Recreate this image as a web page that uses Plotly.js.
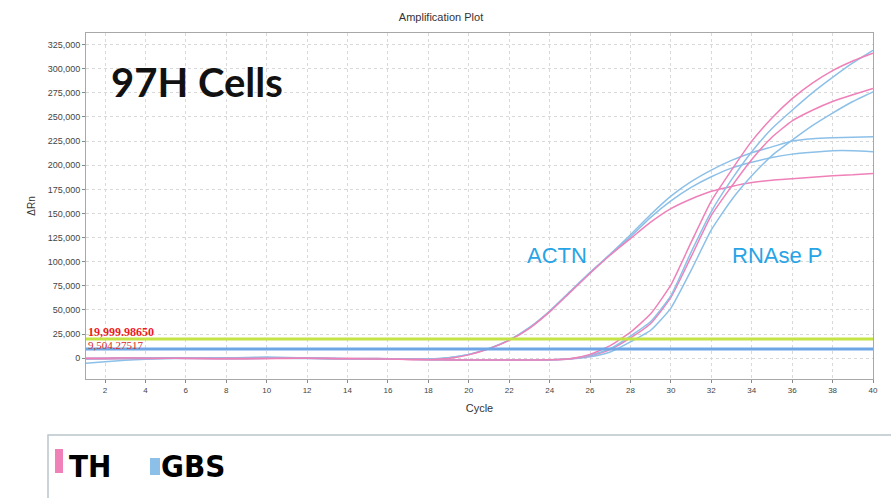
<!DOCTYPE html>
<html><head><meta charset="utf-8">
<script src="https://cdn.plot.ly/plotly-3.0.1.min.js"></script>
<style>html,body{margin:0;padding:0;background:#fff}#chart{width:891px;height:498px}</style>
</head><body><div id="chart"></div><script>
// ---- data ----
const cycles = [1,2,3,4,5,6,7,8,9,10,11,12,13,14,15,16,17,18,19,20,21,22,23,24,25,26,27,28,29,30,31,32,33,34,35,36,37,38,39,40];

// ACTN target
const actnGbsA = [-5200,-3600,-2200,-1000,-400,-200,0,300,500,300,0,-300,-500,-400,-300,-500,-800,-600,600,4000,10200,19000,32000,49000,69000,89000,108000,128000,149000,168000,183000,195000,205000,213000,219000,225000,227500,228500,229000,229500];
const actnGbsB = [-800,-600,-400,-200,0,100,200,400,800,1200,900,200,-300,-500,-600,-700,-900,-800,400,3800,10000,18800,31500,48500,68500,88500,107500,126000,146000,163000,177000,188000,197000,203000,208000,211500,213500,215000,215000,214000];
const actnTh   = [-300,-200,-100,0,0,-200,-400,-500,-300,0,200,100,-200,-300,-200,-400,-1200,-1600,-200,3500,9800,18500,31000,48000,68000,88000,107000,124000,141000,155000,165000,173000,178000,182000,184500,186000,187500,189000,190000,191500];

// RNAse P target
const rnaseThA  = [0,100,200,100,0,-100,-300,-500,-400,-200,0,-100,-300,-500,-700,-900,-1200,-1500,-1700,-1800,-1800,-1800,-1700,-1500,-500,4000,13000,27000,46000,76000,120000,163000,195000,225000,249000,269000,285000,298000,308000,316000];
const rnaseGbsA = [-300,-200,0,200,300,200,0,-200,-300,-100,100,0,-200,-400,-600,-800,-1100,-1400,-1600,-1800,-1900,-1900,-1800,-1600,-600,3000,10000,23000,38000,65000,110000,152000,185000,214000,238000,257000,275000,291000,306000,319000];
const rnaseThB  = [-500,-400,-300,-200,-100,0,100,0,-200,-300,-200,0,-100,-300,-500,-700,-1000,-1300,-1500,-1700,-1800,-1800,-1800,-1600,-700,2500,9000,21000,36000,63000,105000,148000,178000,206000,229000,246000,257000,266000,273000,279500];
const rnaseGbsB = [-200,-100,0,100,0,-100,-200,-300,-200,0,100,0,-200,-400,-600,-800,-1000,-1300,-1600,-1800,-1900,-1900,-1900,-1700,-800,1500,6500,17000,29000,52000,91000,133000,164000,189000,210000,226000,241000,254000,266000,276000];

const thresholdValues = [19999.98650, 9504.27517];
const thresholdLabels = ['19,999.98650', '9,504.27517'];
const groups = ['TH', 'GBS'];
const targetLabels = ['ACTN', 'RNAse P'];
const yTickVals = [0,25000,50000,75000,100000,125000,150000,175000,200000,225000,250000,275000,300000,325000];
const xTickVals = [2,4,6,8,10,12,14,16,18,20,22,24,26,28,30,32,34,36,38,40];

// ---- styles ----
const PINK = '#ef80b8';
const BLUE = '#8cc0e8';
const groupColors = {TH: PINK, GBS: BLUE};
const thresholdColors = ['#c3e444', '#6ea6e6'];

const curves = [
  {y: actnGbsA, g: 'GBS'}, {y: actnGbsB, g: 'GBS'}, {y: actnTh, g: 'TH'},
  {y: rnaseGbsB, g: 'GBS'}, {y: rnaseThB, g: 'TH'}, {y: rnaseGbsA, g: 'GBS'}, {y: rnaseThA, g: 'TH'}
];

const traces = curves.map(c => ({
  x: cycles, y: c.y, type: 'scatter', mode: 'lines',
  line: {color: groupColors[c.g], width: 1.5, shape: 'spline', smoothing: 0.5},
  showlegend: false, hoverinfo: 'skip'
}));
thresholdValues.forEach((v, i) => {
  traces.push({x: [cycles[0], cycles[cycles.length - 1]], y: [v, v], type: 'scatter', mode: 'lines',
    line: {color: thresholdColors[i], width: 3}, showlegend: false, hoverinfo: 'skip'});
});

const L = 86, R = 18, T = 33, B = 119;
const PW = 891 - L - R, PH = 498 - T - B;
const px2paperX = p => (p - L) / PW;
const py2paperY = p => (498 - B - p) / PH;

const annotations = [
  {text: '<b>97H Cells</b>', xref: 'paper', yref: 'paper', x: px2paperX(109), y: py2paperY(82),
   xanchor: 'left', yanchor: 'middle', showarrow: false, font: {family: 'Lato, "Open Sans", sans-serif', size: 40, color: '#111'}},
  {text: targetLabels[0], xref: 'x', yref: 'y', x: 24.37, y: 106000, showarrow: false,
   font: {family: 'Liberation Sans, Arial, sans-serif', size: 22, color: '#27a4e6'}},
  {text: targetLabels[1], xref: 'x', yref: 'y', x: 35.25, y: 106000, showarrow: false,
   font: {family: 'Liberation Sans, Arial, sans-serif', size: 22, color: '#27a4e6'}},
  {text: thresholdLabels[0], xref: 'paper', yref: 'paper', x: 0, y: py2paperY(332), xanchor: 'left', yanchor: 'middle',
   showarrow: false, font: {family: '"Liberation Serif", "DejaVu Serif", serif', size: 12, color: '#ee1c1c', weight: 'bold'}},
  {text: thresholdLabels[1], xref: 'paper', yref: 'paper', x: 0, y: py2paperY(345), xanchor: 'left', yanchor: 'middle',
   showarrow: false, font: {family: '"Liberation Serif", "DejaVu Serif", serif', size: 11, color: '#d42a2a'}},
  {text: '<b>' + groups[0] + '</b>', xref: 'paper', yref: 'paper', x: px2paperX(67), y: py2paperY(466),
   xanchor: 'left', yanchor: 'middle', showarrow: false,
   font: {family: '"Liberation Sans Narrow", "DejaVu Sans Condensed", "Roboto Condensed", sans-serif', size: 31, color: '#000'}},
  {text: '<b>' + groups[1] + '</b>', xref: 'paper', yref: 'paper', x: px2paperX(159), y: py2paperY(466),
   xanchor: 'left', yanchor: 'middle', showarrow: false,
   font: {family: '"Liberation Sans Narrow", "DejaVu Sans Condensed", "Roboto Condensed", sans-serif', size: 31, color: '#000'}}
];

const shapes = [
  {type: 'rect', xref: 'paper', yref: 'paper', x0: px2paperX(48), x1: px2paperX(893), y0: py2paperY(499), y1: py2paperY(435),
   line: {color: '#b9c6cc', width: 1.5}, fillcolor: 'rgba(0,0,0,0)'},
  {type: 'rect', xref: 'paper', yref: 'paper', x0: px2paperX(55), x1: px2paperX(63), y0: py2paperY(473), y1: py2paperY(449),
   line: {width: 0}, fillcolor: groupColors[groups[0]]},
  {type: 'rect', xref: 'paper', yref: 'paper', x0: px2paperX(150), x1: px2paperX(160), y0: py2paperY(475), y1: py2paperY(458),
   line: {width: 0}, fillcolor: groupColors[groups[1]]}
];

const layout = {
  width: 891, height: 498,
  margin: {l: L, r: R, t: T, b: B, pad: 0},
  paper_bgcolor: '#fff', plot_bgcolor: '#fff',
  title: {text: 'Amplification Plot', xref: 'container', yref: 'container', x: 0.495, xanchor: 'center', y: 0.966, yanchor: 'middle',
          font: {family: 'Liberation Sans, Arial, sans-serif', size: 11, color: '#333'}},
  xaxis: {range: [1.06, 40], tickvals: xTickVals, ticks: 'outside', ticklen: 3, tickcolor: '#888',
          tickfont: {family: 'Liberation Sans, Arial, sans-serif', size: 8, color: '#444'},
          showgrid: true, gridcolor: '#d9d9d9', griddash: 'dot', gridwidth: 1,
          showline: true, linecolor: '#a8a8a8', linewidth: 1, mirror: true, zeroline: false,
          title: {text: 'Cycle', standoff: 10, font: {family: 'Liberation Sans, Arial, sans-serif', size: 11, color: '#333'}}},
  yaxis: {range: [-21500, 337000], tickvals: yTickVals, tickformat: ',d', ticks: 'outside', ticklen: 3, tickcolor: '#888',
          tickfont: {family: 'Liberation Sans, Arial, sans-serif', size: 9, color: '#444'},
          showgrid: true, gridcolor: '#d9d9d9', griddash: 'dot', gridwidth: 1,
          showline: true, linecolor: '#a8a8a8', linewidth: 1, mirror: true, zeroline: false,
          title: {text: 'ΔRn', standoff: 10, font: {family: 'Liberation Sans, Arial, sans-serif', size: 10, color: '#333'}}},
  annotations: annotations,
  shapes: shapes,
  showlegend: false
};

Plotly.newPlot('chart', traces, layout, {displayModeBar: false, staticPlot: true});
</script></body></html>
